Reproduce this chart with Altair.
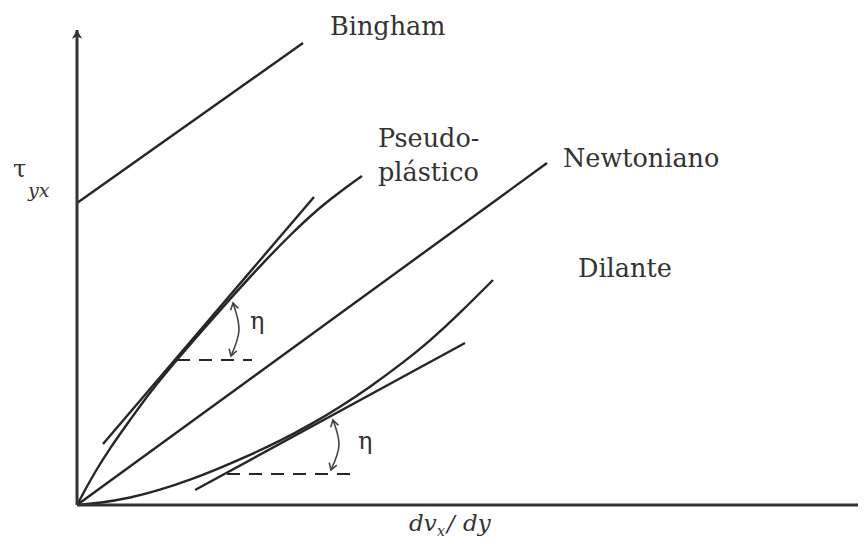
import altair as alt
import pandas as pd

# ---- data (chart units: x = shear rate, y = shear stress) ----
bingham_x = [0, 226]
bingham_y = [302, 462]
newton_x = [0, 470]
newton_y = [0, 342]
pseudo_x = [0, 8, 18, 33, 53, 73, 98, 123, 153, 183, 213, 243, 268, 285]
pseudo_y = [0, 15, 33, 57, 85, 113, 143, 172, 206, 239, 270, 298, 317, 329]
pseudo_tan_x = [26, 237]
pseudo_tan_y = [61, 308]
dil_x = [0, 23, 53, 83, 113, 143, 173, 203, 233, 263, 293, 323, 353, 383, 416]
dil_y = [0, 2, 7, 15, 25, 37, 50, 64, 80, 98, 118, 140, 164, 192, 225]
dil_tan_x = [118, 388]
dil_tan_y = [15, 162]
yaxis_x = [0, 0]
yaxis_y = [0, 475]
xaxis_x = [0, 781]
xaxis_y = [0, 0]

dash1_x = [100, 175]
dash1_y = [145, 145]
dash2_x = [150, 275]
dash2_y = [31, 31]

arc1_x = [156, 162, 154]
arc1_y = [202, 175, 149]
arc2_x = [256, 262, 254]
arc2_y = [85, 60, 35]

arrow_x = [156, 154, 256, 254]
arrow_y = [202, 149, 85, 35]
arrow_angle = [347, 197, 346, 198]

labels = ["Bingham", "Pseudo-", "plástico", "Newtoniano", "Dilante", "η", "η", "τ"]
label_x = [253, 301, 301, 486, 501, 173, 281, -64]
label_y = [470, 358, 324, 338, 228, 176, 56, 328]
label_size = [25.5, 25.5, 25.5, 25.5, 25.5, 24, 24, 24]

ital_labels = ["yx", "dv", "x", "/", "dy"]
ital_x = [-49, 332, 360, 370, 386]
ital_y = [308, -26, -31, -26, -26]
ital_size = [19, 23, 14, 23, 23]

# ---- tables ----
def rows(name, xs, ys):
    return [{"series": name, "order": i, "x": a, "y": b} for i, (a, b) in enumerate(zip(xs, ys))]

straight = pd.DataFrame(
    rows("bingham", bingham_x, bingham_y)
    + rows("newton", newton_x, newton_y)
    + rows("pseudo_tan", pseudo_tan_x, pseudo_tan_y)
    + rows("dil_tan", dil_tan_x, dil_tan_y)
)
curves = pd.DataFrame(rows("pseudo", pseudo_x, pseudo_y) + rows("dil", dil_x, dil_y))
axes_df = pd.DataFrame(rows("yaxis", yaxis_x, yaxis_y) + rows("xaxis", xaxis_x, xaxis_y))
dashed = pd.DataFrame(rows("d1", dash1_x, dash1_y) + rows("d2", dash2_x, dash2_y))
arcs = pd.DataFrame(rows("a1", arc1_x, arc1_y) + rows("a2", arc2_x, arc2_y))
arrows = pd.DataFrame({"x": arrow_x, "y": arrow_y, "angle": arrow_angle})
axis_head = pd.DataFrame({"x": [yaxis_x[1]], "y": [yaxis_y[1]]})
txt = pd.DataFrame({"t": labels, "x": label_x, "y": label_y, "s": label_size})
itxt = pd.DataFrame({"t": ital_labels, "x": ital_x, "y": ital_y, "s": ital_size})

xs = alt.Scale(domain=[-69, 781], nice=False, zero=False)
ys = alt.Scale(domain=[-33, 497], nice=False, zero=False)
X = alt.X("x:Q", scale=xs, axis=None)
Y = alt.Y("y:Q", scale=ys, axis=None)
INK = "#262626"

straight_layer = alt.Chart(straight).mark_line(color=INK, strokeWidth=2.4).encode(
    x=X, y=Y, detail="series:N", order="order:Q")
curve_layer = alt.Chart(curves).mark_line(color=INK, strokeWidth=2.4, interpolate="basis").encode(
    x=X, y=Y, detail="series:N", order="order:Q")
axes_layer = alt.Chart(axes_df).mark_line(color="#333333", strokeWidth=3).encode(
    x=X, y=Y, detail="series:N", order="order:Q")
dash_layer = alt.Chart(dashed).mark_line(color=INK, strokeWidth=2, strokeDash=[13, 9]).encode(
    x=X, y=Y, detail="series:N", order="order:Q")
arc_layer = alt.Chart(arcs).mark_line(color="#444444", strokeWidth=1.6, interpolate="natural").encode(
    x=X, y=Y, detail="series:N", order="order:Q")
arrow_layer = alt.Chart(arrows).mark_point(
    shape="M-0.8,1.3L0,0L0.8,1.3", filled=False, color="#444444", strokeWidth=1.6, size=100, opacity=1
).encode(x=X, y=Y, angle=alt.Angle("angle:Q", scale=None))
head_layer = alt.Chart(axis_head).mark_point(
    shape="M0,0L-1.3,2.2L0,1.6L1.3,2.2Z", filled=True, color="#333333", size=64, opacity=1
).encode(x=X, y=Y)
text_layer = alt.Chart(txt).mark_text(
    font="DejaVu Serif", align="left", baseline="alphabetic", color="#333333"
).encode(x=X, y=Y, text="t:N", size=alt.Size("s:Q", scale=None))
ital_layer = alt.Chart(itxt).mark_text(
    font="DejaVu Serif", fontStyle="italic", align="left", baseline="alphabetic", color="#333333"
).encode(x=X, y=Y, text="t:N", size=alt.Size("s:Q", scale=None))

chart = alt.layer(
    straight_layer, curve_layer, axes_layer, dash_layer, arc_layer, arrow_layer, head_layer,
    text_layer, ital_layer
).properties(
    width=850, height=530, autosize=alt.AutoSizeParams(type="none"), padding=0, background="white"
).configure_view(strokeWidth=0)

chart.save("out.html", embed_options={"renderer": "svg", "actions": False})
